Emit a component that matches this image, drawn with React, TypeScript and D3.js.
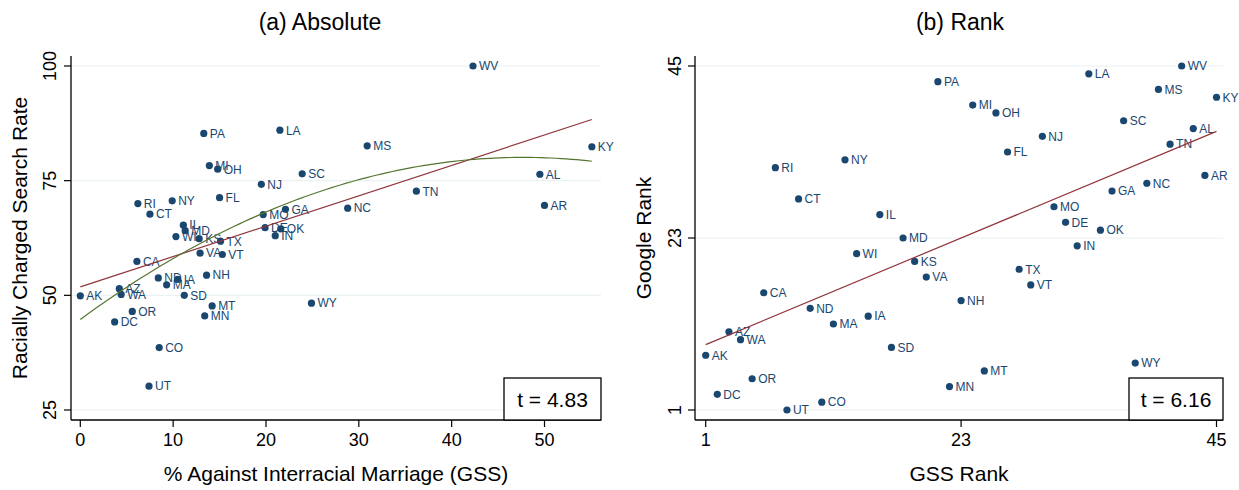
import React from "react";
import * as d3 from "d3";

const states = ["AK","AL","AR","AZ","CA","CO","CT","DC","DE","FL","GA","IA","IL","IN","KS","KY","LA","MA","MD","MI","MN","MO","MS","MT","NC","ND","NH","NJ","NY","OH","OK","OR","PA","RI","SC","SD","TN","TX","UT","VA","VT","WA","WI","WV","WY"];

// (a) Absolute
const gssPct = [0.0,49.5,50.0,4.2,6.1,8.5,7.5,3.7,19.9,15.0,22.1,10.5,11.1,21.0,12.8,55.1,21.5,9.3,11.3,13.9,13.4,19.7,30.9,14.2,28.8,8.4,13.6,19.5,9.9,14.8,21.6,5.6,13.3,6.2,23.9,11.2,36.2,15.1,7.4,12.9,15.3,4.4,10.3,42.3,24.9];
const searchRate = [49.9,76.4,69.6,51.45,57.4,38.6,67.7,44.2,64.75,71.3,68.75,53.5,65.3,63.0,62.35,82.4,86.0,52.3,64.1,78.3,45.5,67.6,82.6,47.7,69.0,53.8,54.4,74.2,70.6,77.5,64.5,46.5,85.3,70.0,76.5,50.0,72.7,61.8,30.2,59.2,58.9,50.2,62.8,100.0,48.3];

// (b) Rank
const gssRank = [1,43,44,3,6,11,9,2,32,27,36,15,16,33,19,45,34,12,18,24,22,31,40,25,39,10,23,30,13,26,35,5,21,7,37,17,41,28,8,20,29,4,14,42,38];
const googleRank = [8,37,31,11,16,2,28,3,25,34,29,13,26,22,20,41,44,12,23,40,4,27,42,6,30,14,15,36,33,39,24,5,43,32,38,9,35,19,1,18,17,10,21,45,7];

const absXTicks = [0, 10, 20, 30, 40, 50];
const absYTicks = [25, 50, 75, 100];
const rankTicks = [1, 23, 45];

const tAbs = "t = 4.83";
const tRank = "t = 6.16";

const NAVY = "#1a476f";
const MAROON = "#90353b";
const GREEN = "#55752f";
const GRID = "#eaf2f3";
const FONT = "'Liberation Sans', Arial, Helvetica, sans-serif";

function olsLinear(xs: number[], ys: number[]) {
  const n = xs.length;
  const mx = d3.mean(xs)!;
  const my = d3.mean(ys)!;
  let sxy = 0, sxx = 0;
  for (let i = 0; i < n; i++) {
    sxy += (xs[i] - mx) * (ys[i] - my);
    sxx += (xs[i] - mx) ** 2;
  }
  const b = sxy / sxx;
  return (x: number) => my + b * (x - mx);
}

function olsQuad(xs: number[], ys: number[]) {
  // normal equations for y = a + b x + c x^2
  const S = (p: number) => d3.sum(xs, (x) => x ** p);
  const T = (p: number) => d3.sum(xs.map((x, i) => x ** p * ys[i]));
  const A = [
    [S(0), S(1), S(2), T(0)],
    [S(1), S(2), S(3), T(1)],
    [S(2), S(3), S(4), T(2)],
  ];
  for (let i = 0; i < 3; i++) {
    for (let k = i + 1; k < 3; k++) {
      const f = A[k][i] / A[i][i];
      for (let j = i; j < 4; j++) A[k][j] -= f * A[i][j];
    }
  }
  const c = A[2][3] / A[2][2];
  const b = (A[1][3] - A[1][2] * c) / A[1][1];
  const a = (A[0][3] - A[0][1] * b - A[0][2] * c) / A[0][0];
  return (x: number) => a + b * x + c * x * x;
}

type PanelProps = {
  title: string;
  xLabel: string;
  yLabel: string;
  xs: number[];
  ys: number[];
  xDomain: [number, number];
  xRange: [number, number];
  yDomain: [number, number];
  frameX: [number, number];
  xTicks: number[];
  yTicks: number[];
  yLabelX: number;
  yTickX: number;
  tText: string;
  tBoxX: number;
  quad: boolean;
  titleX: number;
};

const yRange: [number, number] = [410, 66];
const axisY = 420;
const axisTop = 56;

function Panel(p: PanelProps) {
  const x = d3.scaleLinear().domain(p.xDomain).range(p.xRange);
  const y = d3.scaleLinear().domain(p.yDomain).range(yRange);
  const lo = d3.min(p.xs)!;
  const hi = d3.max(p.xs)!;
  const samples = d3.range(0, 101).map((i) => lo + ((hi - lo) * i) / 100);
  const lin = olsLinear(p.xs, p.ys);
  const line = d3
    .line<number>()
    .x((v) => x(v))
    .y((v) => y(lin(v)));
  let quadPath: string | null = null;
  if (p.quad) {
    const q = olsQuad(p.xs, p.ys);
    quadPath = d3
      .line<number>()
      .x((v) => x(v))
      .y((v) => y(q(v)))(samples);
  }
  const cx = (p.frameX[0] + p.frameX[1]) / 2;
  return (
    <g>
      <text x={p.titleX} y={30} textAnchor="middle" fontSize={23} fontFamily={FONT} fill="#000">
        {p.title}
      </text>
      {p.yTicks.map((t) => (
        <line key={"g" + t} x1={p.frameX[0]} x2={p.frameX[1]} y1={y(t)} y2={y(t)} stroke={GRID} strokeWidth={1.2} />
      ))}
      {/* axes */}
      <line x1={p.frameX[0]} x2={p.frameX[0]} y1={axisTop} y2={axisY} stroke="#000" strokeWidth={1.3} />
      <line x1={p.frameX[0]} x2={p.frameX[1]} y1={axisY} y2={axisY} stroke="#000" strokeWidth={1.3} />
      {p.yTicks.map((t) => (
        <g key={"yt" + t}>
          <line x1={p.frameX[0] - 7} x2={p.frameX[0]} y1={y(t)} y2={y(t)} stroke="#000" strokeWidth={1.2} />
          <text
            transform={`translate(${p.yTickX},${y(t)}) rotate(-90)`}
            textAnchor="middle"
            fontSize={18}
            fontFamily={FONT}
            fill="#000"
          >
            {t}
          </text>
        </g>
      ))}
      {p.xTicks.map((t) => (
        <g key={"xt" + t}>
          <line x1={x(t)} x2={x(t)} y1={axisY} y2={axisY + 7} stroke="#000" strokeWidth={1.2} />
          <text x={x(t)} y={446} textAnchor="middle" fontSize={18} fontFamily={FONT} fill="#000">
            {t}
          </text>
        </g>
      ))}
      <text x={cx} y={481} textAnchor="middle" fontSize={21} fontFamily={FONT} fill="#000">
        {p.xLabel}
      </text>
      <text
        transform={`translate(${p.yLabelX},${(yRange[0] + yRange[1]) / 2}) rotate(-90)`}
        textAnchor="middle"
        fontSize={21}
        fontFamily={FONT}
        fill="#000"
      >
        {p.yLabel}
      </text>
      {/* points and labels */}
      {p.xs.map((v, i) => (
        <g key={states[i]}>
          <circle cx={x(v)} cy={y(p.ys[i])} r={3.6} fill={NAVY} />
          <text x={x(v) + 6} y={y(p.ys[i]) + 4.3} fontSize={12} fontFamily={FONT} fill={NAVY}>
            {states[i]}
          </text>
        </g>
      ))}
      {/* fits */}
      <path d={line([lo, hi]) || ""} fill="none" stroke={MAROON} strokeWidth={1.2} />
      {quadPath && <path d={quadPath} fill="none" stroke={GREEN} strokeWidth={1.2} />}
      {/* t box */}
      <rect x={p.tBoxX} y={378} width={p.frameX[1] - p.tBoxX} height={axisY - 378} fill="#fff" stroke="#000" strokeWidth={1.3} />
      <text x={(p.tBoxX + p.frameX[1]) / 2} y={407} textAnchor="middle" fontSize={21} fontFamily={FONT} fill="#000">
        {p.tText}
      </text>
    </g>
  );
}

export default function App() {
  return (
    <svg
      width={1239}
      height={490}
      viewBox="0 0 1239 490"
      style={{ position: "absolute", left: 0, top: 0, background: "#fff" }}
    >
      <rect x={0} y={0} width={1239} height={490} fill="#fff" />
      <Panel
        title="(a) Absolute"
        xLabel="% Against Interracial Marriage (GSS)"
        yLabel="Racially Charged Search Rate"
        xs={gssPct}
        ys={searchRate}
        xDomain={[0, 50]}
        xRange={[80.3, 544.5]}
        yDomain={[25, 100]}
        frameX={[71, 601]}
        xTicks={absXTicks}
        yTicks={absYTicks}
        yLabelX={27}
        yTickX={56}
        tText={tAbs}
        tBoxX={504}
        quad={true}
        titleX={320}
      />
      <Panel
        title="(b) Rank"
        xLabel="GSS Rank"
        yLabel="Google Rank"
        xs={gssRank}
        ys={googleRank}
        xDomain={[1, 45]}
        xRange={[705.7, 1216.5]}
        yDomain={[1, 45]}
        frameX={[695, 1223]}
        xTicks={rankTicks}
        yTicks={rankTicks}
        yLabelX={651}
        yTickX={681}
        tText={tRank}
        tBoxX={1129}
        quad={false}
        titleX={960}
      />
    </svg>
  );
}
